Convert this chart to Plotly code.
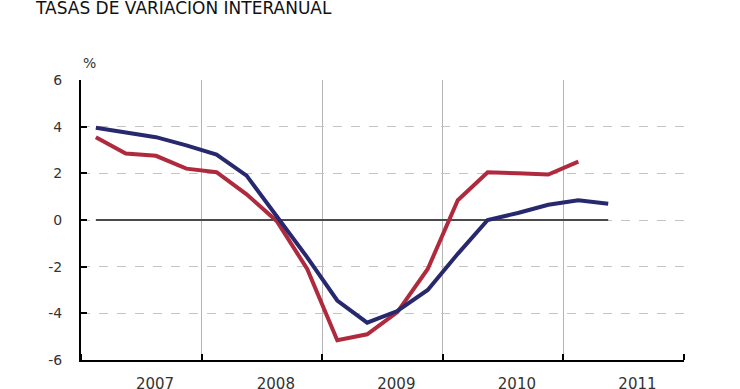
import plotly.graph_objects as go
import pandas as pd

quarters = ["2007-T1", "2007-T2", "2007-T3", "2007-T4",
            "2008-T1", "2008-T2", "2008-T3", "2008-T4",
            "2009-T1", "2009-T2", "2009-T3", "2009-T4",
            "2010-T1", "2010-T2", "2010-T3", "2010-T4",
            "2011-T1", "2011-T2"]
serie_azul = [3.95, 3.75, 3.55, 3.2, 2.8, 1.9, 0.15, -1.6, -3.45, -4.4,
              -3.9, -3.0, -1.45, 0.0, 0.3, 0.65, 0.85, 0.7]
serie_roja = [3.55, 2.85, 2.75, 2.2, 2.05, 1.1, -0.05, -2.1, -5.15, -4.9,
              -3.95, -2.1, 0.85, 2.05, 2.0, 1.95, 2.5, None]
years = [2007, 2008, 2009, 2010, 2011]
year_labels = ["2007", "2008", "2009", "2010", "2011"]
y_ticks = [-6, -4, -2, 0, 2, 4, 6]
y_tick_labels = ["-6", "-4", "-2", "0", "2", "4", "6"]

FONT = "DejaVu Sans, Verdana, sans-serif"


def q_mid(q):
    y, t = q.split("-T")
    month = (int(t) - 1) * 3 + 1
    start = pd.Timestamp(int(y), month, 1)
    end = start + pd.DateOffset(months=3)
    return start + (end - start) / 2


x = [q_mid(q) for q in quarters]

fig = go.Figure()
fig.add_trace(go.Scatter(x=x, y=[0] * len(x), mode="lines",
                         line=dict(color="#4a4a4a", width=2), hoverinfo="skip"))
fig.add_trace(go.Scatter(x=x, y=serie_roja, mode="lines",
                         line=dict(color="#b02a3e", width=4)))
fig.add_trace(go.Scatter(x=x, y=serie_azul, mode="lines",
                         line=dict(color="#28286e", width=4)))

fig.update_layout(
    width=740, height=389,
    margin=dict(l=81, r=56, t=80, b=29, autoexpand=False),
    paper_bgcolor="white", plot_bgcolor="white",
    showlegend=False,
    font=dict(family=FONT, color="#333333", size=14),
)
fig.update_xaxes(
    type="date",
    range=["2007-01-01", "2012-01-01"],
    tickmode="array",
    tickvals=[f"{y}-08-13" for y in years],
    ticktext=year_labels,
    ticks="", showgrid=False,
    minor=dict(tickmode="array",
               tickvals=[f"{y}-01-01" for y in range(2007, 2013)],
               ticks="inside", ticklen=6, tickcolor="black", tickwidth=1.5,
               showgrid=True, gridcolor="#b4b4b4", gridwidth=1),
    showline=True, linecolor="black", linewidth=2,
    ticklabelstandoff=9, automargin=False,
    tickfont=dict(family=FONT, size=15, color="#333333"),
)
fig.update_yaxes(
    range=[-6, 6], tickvals=y_ticks, ticktext=y_tick_labels,
    ticks="inside", ticklen=6, tickcolor="black", tickwidth=1.5,
    showgrid=True, gridcolor="#c4c4c4", gridwidth=1, griddash="dash",
    zeroline=False,
    showline=True, linecolor="black", linewidth=2,
    ticklabelstandoff=14, automargin=False,
    tickfont=dict(family=FONT, size=14, color="#333333"),
)
fig.add_annotation(text="TASAS DE VARIACIÓN INTERANUAL", xref="paper", yref="paper",
                   x=(33 - 81) / 603, y=(360 - 7) / 280, xanchor="left", yanchor="middle",
                   showarrow=False, font=dict(family=FONT, size=17, color="#111111"))
fig.add_annotation(text="%", xref="paper", yref="paper",
                   x=(89 - 81) / 603, y=(360 - 63) / 280, xanchor="center", yanchor="middle",
                   showarrow=False, font=dict(family=FONT, size=14, color="#333333"))

fig.write_html("out.html")
